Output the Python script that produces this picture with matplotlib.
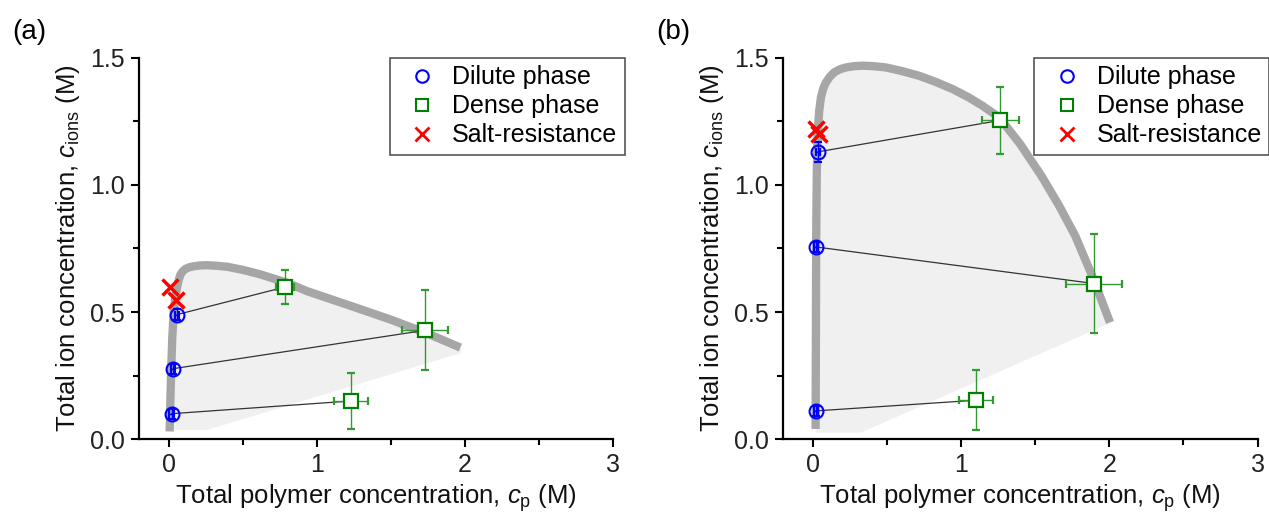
import matplotlib
matplotlib.use("Agg")
import matplotlib.pyplot as plt
from matplotlib.ticker import MultipleLocator
from matplotlib.lines import Line2D

plt.rcParams['font.family'] = ['Liberation Sans', 'DejaVu Sans']
plt.rcParams['mathtext.fontset'] = 'custom'
plt.rcParams['mathtext.rm'] = 'Liberation Sans'
plt.rcParams['mathtext.it'] = 'Liberation Sans:italic'

# ---------------- Panel (a) data ----------------
a_dilute_x = [0.058, 0.03, 0.02]
a_dilute_y = [0.49, 0.277, 0.10]
a_dilute_xerr = [0.015, 0.015, 0.015]
a_dilute_yerr = [0.02, 0.02, 0.02]
a_dense_x = [0.784, 1.733, 1.232]
a_dense_y = [0.598, 0.428, 0.150]
a_dense_xerr = [0.06, 0.155, 0.113]
a_dense_yerr = [0.068, 0.157, 0.11]
a_salt_x = [0.007, 0.05]
a_salt_y = [0.598, 0.546]
a_curve_x = [0.007, 0.012, 0.018, 0.025, 0.035, 0.045, 0.055, 0.063, 0.072, 0.081, 0.095,
             0.115, 0.14, 0.171, 0.21, 0.26, 0.32, 0.396, 0.5, 0.62, 0.8, 0.935, 1.2, 1.5, 1.75, 1.97]
a_curve_y = [0.03, 0.15, 0.28, 0.40, 0.50, 0.555, 0.59, 0.615, 0.633, 0.648, 0.66,
             0.670, 0.676, 0.680, 0.683, 0.684, 0.682, 0.678, 0.666, 0.648, 0.615, 0.582, 0.53, 0.47, 0.415, 0.36]
a_floor = [(0.26, 0.036), (1.98, 0.34)]

# ---------------- Panel (b) data ----------------
b_dilute_x = [0.036, 0.022, 0.022]
b_dilute_y = [1.13, 0.756, 0.111]
b_dilute_xerr = [0.015, 0.015, 0.015]
b_dilute_yerr = [0.04, 0.02, 0.02]
b_dense_x = [1.266, 1.898, 1.102]
b_dense_y = [1.254, 0.612, 0.153]
b_dense_xerr = [0.123, 0.19, 0.117]
b_dense_yerr = [0.133, 0.196, 0.118]
b_salt_x = [0.02, 0.04]
b_salt_y = [1.22, 1.20]
b_curve_x = [0.02, 0.022, 0.024, 0.028, 0.034, 0.044, 0.056, 0.072, 0.09, 0.115, 0.146, 0.185,
             0.225, 0.28, 0.337, 0.41, 0.494, 0.6, 0.719, 0.83, 0.944, 1.05, 1.146, 1.259,
             1.40, 1.543, 1.66, 1.771, 1.885, 2.005]
b_curve_y = [0.04, 0.40, 0.80, 1.05, 1.20, 1.29, 1.344, 1.38, 1.403, 1.425, 1.443, 1.455,
             1.462, 1.467, 1.469, 1.467, 1.462, 1.448, 1.429, 1.405, 1.377, 1.345, 1.311, 1.265,
             1.16, 1.035, 0.92, 0.799, 0.642, 0.459]
b_floor = [(0.326, 0.026), (1.987, 0.452)]

xticks = [0, 1, 2, 3]
yticks = [0.0, 0.5, 1.0, 1.5]

fig = plt.figure(figsize=(12.69, 5.16), dpi=100)
ax_a = fig.add_axes([0.1095, 0.149, 0.3735, 0.739])
ax_b = fig.add_axes([0.617, 0.149, 0.374, 0.739])

def draw(ax, dx, dy, dxe, dye, nx, ny, nxe, nye, sx, sy, cx, cy, floor, label):
    # shaded two-phase region
    px = list(cx) + [floor[1][0], floor[0][0], cx[0]]
    py = list(cy) + [floor[1][1], floor[0][1], floor[0][1]]
    ax.fill(px, py, color='#f0f0f0', lw=0, zorder=0)
    ax.plot(cx, cy, color='#a6a6a6', lw=6, solid_capstyle='butt', solid_joinstyle='round', zorder=1)
    for i in range(len(dx)):
        ax.plot([dx[i], nx[i]], [dy[i], ny[i]], color='#333333', lw=0.9, zorder=2)
    ax.errorbar(dx, dy, xerr=dxe, yerr=dye, fmt='o', ms=10, mfc='none', mec='#0000ff',
                mew=1.5, ecolor='#0000ff', elinewidth=1.0, capsize=3, zorder=4)
    ax.errorbar(nx, ny, xerr=nxe, yerr=nye, fmt='s', ms=10, mfc='white', mec='#008000',
                mew=1.6, ecolor='#339933', elinewidth=1.0, capsize=3, zorder=4)
    ax.plot(sx, sy, 'x', ms=11, mew=2.5, color='#ff0000', ls='none', zorder=5)
    ax.set_xlim(-0.2, 3.0)
    ax.set_ylim(0, 1.5)
    ax.set_xticks(xticks)
    ax.set_yticks(yticks)
    ax.set_xticklabels([str(t) for t in xticks])
    ax.set_yticklabels([f'{t:.1f}' for t in yticks])
    ax.xaxis.set_minor_locator(MultipleLocator(0.5))
    ax.yaxis.set_minor_locator(MultipleLocator(0.25))
    ax.tick_params(which='major', direction='out', length=6, width=1.5, labelsize=18,
                   labelcolor='#222222', pad=4)
    ax.tick_params(which='minor', direction='out', length=4, width=1.5)
    for s in ['top', 'right']:
        ax.spines[s].set_visible(False)
    for s in ['left', 'bottom']:
        ax.spines[s].set_linewidth(1.6)
    ax.set_xlabel(r'Total polymer concentration, $c_{\mathrm{p}}$ (M)', fontsize=18.5, labelpad=4,
                  color='#111111')
    ax.set_ylabel(r'Total ion concentration, $c_{\mathrm{ions}}$ (M)', fontsize=18.5, labelpad=6,
                  color='#111111')
    handles = [
        Line2D([], [], marker='o', ls='none', ms=9, mfc='none', mec='#0000ff', mew=1.5),
        Line2D([], [], marker='s', ls='none', ms=9, mfc='none', mec='#008000', mew=1.5),
        Line2D([], [], marker='x', ls='none', ms=10, mec='#ff0000', mew=2.0),
    ]
    labels = ['Dilute phase', 'Dense phase', 'Salt-resistance']
    leg = ax.legend(handles, labels, loc='upper right', bbox_to_anchor=(1.025, 1.0),
                    borderaxespad=0, fontsize=18, frameon=True, fancybox=False,
                    edgecolor='#555555', framealpha=1, handlelength=2.0,
                    handletextpad=0.2, labelspacing=0.2, borderpad=0.3)
    leg.get_frame().set_linewidth(1.2)
    fig.text(ax.get_position().x0 - 0.1, 0.925, label, fontsize=20)

draw(ax_a, a_dilute_x, a_dilute_y, a_dilute_xerr, a_dilute_yerr,
     a_dense_x, a_dense_y, a_dense_xerr, a_dense_yerr,
     a_salt_x, a_salt_y, a_curve_x, a_curve_y, a_floor, '(a)')
draw(ax_b, b_dilute_x, b_dilute_y, b_dilute_xerr, b_dilute_yerr,
     b_dense_x, b_dense_y, b_dense_xerr, b_dense_yerr,
     b_salt_x, b_salt_y, b_curve_x, b_curve_y, b_floor, '(b)')

fig.savefig('out.png', dpi=100)
